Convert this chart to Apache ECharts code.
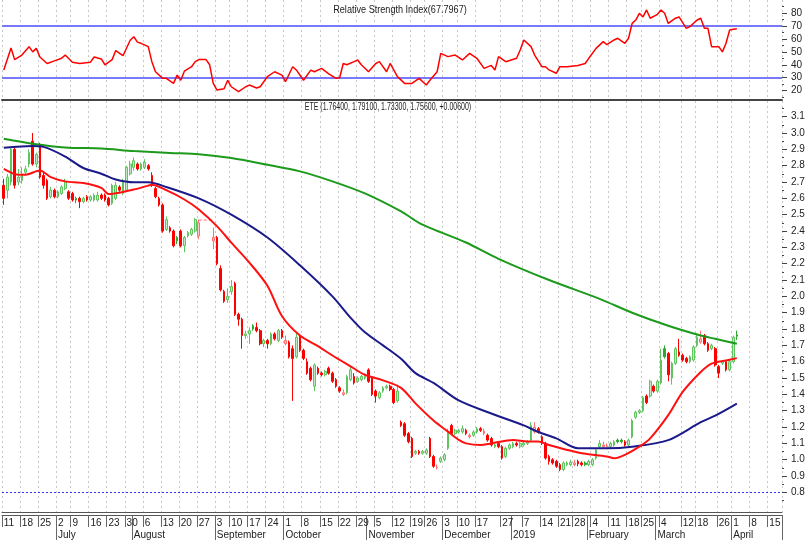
<!DOCTYPE html>
<html><head><meta charset="utf-8">
<script src="https://cdn.jsdelivr.net/npm/echarts@6/dist/echarts.min.js"></script>
<style>html,body{margin:0;padding:0;background:#fff}#c{width:809px;height:540px}</style>
</head><body><div id="c"></div>
<script>
// ---- daily OHLC (index 0 = 2018-06-11), null = no candle ----
const openP = [2.68,2.65,2.70,2.90,2.70,2.71,2.76,2.81,2.95,2.81,2.93,2.74,2.71,2.61,2.65,2.61,2.63,2.66,2.64,2.63,
2.60,2.60,2.58,2.61,2.59,2.59,2.59,2.62,2.62,2.60,2.57,2.60,2.67,2.63,2.65,2.75,2.79,2.81,2.78,2.79,
2.80,2.74,2.66,2.60,2.56,2.41,2.42,2.40,2.36,2.40,2.31,2.37,2.38,2.40,2.37,null,null,null,2.34,2.36,
2.17,2.03,1.98,2.03,2.08,1.89,1.86,1.76,1.77,1.82,1.81,1.79,1.71,1.73,1.71,1.77,1.73,1.79,1.71,1.72,
1.68,1.63,1.75,1.67,1.60,1.56,1.45,1.56,1.53,1.52,1.56,1.53,1.49,1.44,1.40,1.41,1.49,1.51,1.48,1.49,
1.50,1.55,1.50,1.42,1.38,1.42,1.44,1.45,1.43,1.36,1.23,1.22,1.16,1.13,1.04,1.05,1.04,1.04,1.13,1.02,
0.95,0.99,1.00,1.07,1.21,1.16,1.17,1.17,1.18,1.14,1.15,1.17,1.19,1.16,1.15,1.13,1.08,1.10,1.08,1.02,
1.07,1.08,1.10,1.08,1.09,1.10,1.12,1.17,1.19,1.14,1.10,1.02,1.00,0.99,0.97,0.94,0.97,0.97,0.97,0.99,
0.98,0.98,0.97,0.97,1.01,1.08,1.08,1.08,1.08,1.09,1.12,1.12,1.11,1.09,1.14,1.26,1.29,1.30,1.39,1.39,
1.45,1.42,1.47,1.68,1.65,1.50,1.59,1.66,1.64,1.62,1.60,1.61,1.70,1.72,1.76,1.71,1.68,1.68,1.57,1.59,
1.60,1.55,1.60,1.764];
const closeP = [2.60,2.73,2.90,2.68,2.73,2.75,2.78,2.88,2.81,2.87,2.73,2.68,2.60,2.65,2.61,2.64,2.67,2.70,2.60,2.59,
2.59,2.58,2.60,2.59,2.61,2.62,2.62,2.60,2.59,2.56,2.68,2.68,2.65,2.70,2.79,2.81,2.83,2.78,2.81,2.82,
2.78,2.68,2.61,2.56,2.40,2.47,2.40,2.31,2.34,2.31,2.36,2.39,2.41,2.47,2.45,null,null,null,2.36,2.20,
2.04,1.97,2.00,2.06,1.89,1.86,1.76,1.77,1.79,1.80,1.79,1.71,1.73,1.71,1.77,1.74,1.79,1.75,1.73,1.63,
1.62,1.75,1.67,1.62,1.53,1.49,1.58,1.53,1.52,1.54,1.53,1.48,1.45,1.42,1.41,1.51,1.55,1.47,1.50,1.51,
1.51,1.48,1.40,1.39,1.41,1.44,1.45,1.43,1.35,1.42,1.21,1.15,1.11,1.02,1.05,1.04,1.05,1.06,1.02,0.96,
0.955,1.01,1.03,1.17,1.16,1.18,1.18,1.19,1.16,1.15,1.17,1.19,1.18,1.175,1.12,1.09,1.09,1.08,1.01,1.07,
1.09,1.10,1.09,1.10,1.10,1.11,1.21,1.20,1.17,1.10,1.01,0.99,0.98,0.96,0.94,0.98,0.98,0.985,0.98,0.975,
0.97,0.97,0.99,1.00,1.06,1.10,1.09,1.085,1.10,1.11,1.11,1.11,1.09,1.12,1.24,1.29,1.30,1.38,1.35,1.48,
1.42,1.48,1.61,1.63,1.52,1.59,1.68,1.64,1.61,1.60,1.63,1.69,1.75,1.74,1.71,1.67,1.70,1.58,1.53,1.60,
1.55,1.60,1.75,1.756];
const lowP = [2.56,2.60,2.68,2.66,2.68,2.69,2.74,2.79,2.80,2.79,2.72,2.66,2.59,2.60,2.60,2.60,2.62,2.65,2.59,2.58,
2.57,2.54,2.57,2.58,2.58,2.58,2.58,2.59,2.58,2.55,2.56,2.59,2.64,2.62,2.64,2.74,2.77,2.77,2.77,2.78,
2.77,2.67,2.60,2.55,2.39,2.40,2.39,2.30,2.32,2.30,2.27,2.36,2.37,2.39,2.35,null,null,null,2.29,2.19,
2.03,1.96,1.96,2.01,1.88,1.82,1.68,1.74,1.71,1.79,1.78,1.70,1.69,1.68,1.70,1.73,1.72,1.74,1.70,1.62,
1.36,1.62,1.66,1.61,1.52,1.48,1.42,1.52,1.51,1.51,1.52,1.47,1.44,1.41,1.39,1.40,1.48,1.46,1.47,1.48,
1.49,1.47,1.39,1.35,1.37,1.41,1.43,1.42,1.34,1.35,1.20,1.14,1.10,1.01,1.03,1.03,1.03,1.03,1.01,0.95,
0.94,0.98,0.99,1.06,1.15,1.15,1.16,1.16,1.15,1.13,1.14,1.16,1.17,1.15,1.11,1.08,1.07,1.07,1.00,1.01,
1.06,1.07,1.08,1.07,1.08,1.09,1.11,1.16,1.16,1.09,1.00,0.97,0.97,0.95,0.93,0.93,0.96,0.96,0.96,0.96,
0.96,0.96,0.96,0.96,1.00,1.07,1.07,1.07,1.07,1.08,1.10,1.10,1.08,1.08,1.13,1.25,1.28,1.29,1.34,1.38,
1.41,1.41,1.46,1.62,1.48,1.46,1.58,1.63,1.60,1.59,1.59,1.60,1.69,1.71,1.70,1.66,1.67,1.57,1.50,1.58,
1.54,1.54,1.59,1.733];
const highP = [2.72,2.75,2.91,2.92,2.78,2.79,2.80,2.90,3.00,2.88,2.94,2.76,2.72,2.67,2.66,2.65,2.68,2.72,2.65,2.64,
2.61,2.61,2.61,2.62,2.62,2.63,2.64,2.63,2.63,2.61,2.69,2.70,2.68,2.72,2.80,2.83,2.85,2.82,2.82,2.84,
2.81,2.76,2.67,2.61,2.57,2.49,2.43,2.41,2.37,2.41,2.37,2.40,2.42,2.48,2.47,null,null,null,2.42,2.37,
2.19,2.04,2.05,2.10,2.09,1.90,1.87,1.79,1.81,1.83,1.84,1.80,1.74,1.74,1.78,1.78,1.80,1.80,1.76,1.73,
1.70,1.78,1.76,1.68,1.62,1.57,1.59,1.57,1.54,1.55,1.57,1.54,1.50,1.45,1.43,1.52,1.57,1.53,1.51,1.52,
1.52,1.56,1.51,1.43,1.42,1.45,1.46,1.46,1.44,1.46,1.24,1.23,1.17,1.14,1.06,1.06,1.06,1.07,1.14,1.03,
0.97,1.02,1.04,1.19,1.22,1.19,1.19,1.21,1.19,1.16,1.18,1.20,1.20,1.19,1.16,1.14,1.10,1.11,1.09,1.08,
1.10,1.11,1.11,1.11,1.11,1.12,1.23,1.23,1.20,1.15,1.11,1.03,1.01,1.00,0.98,0.99,0.99,1.00,1.00,1.00,
0.99,0.99,1.00,1.01,1.07,1.12,1.11,1.10,1.11,1.12,1.13,1.13,1.12,1.13,1.25,1.30,1.31,1.39,1.40,1.49,
1.46,1.49,1.68,1.70,1.66,1.60,1.69,1.74,1.65,1.63,1.64,1.70,1.77,1.79,1.77,1.72,1.71,1.69,1.58,1.61,
1.61,1.61,1.76,1.791];

// ---- moving averages: [day index, value] ----
const maShort = [[0,2.78],[4,2.745],[6,2.745],[10,2.771],[13,2.73],[17,2.704],[22,2.694],[27,2.664],[29,2.627],[32,2.635],
[36,2.654],[40,2.678],[41,2.684],[45,2.65],[50,2.593],[54,2.532],[59,2.43],[63,2.329],[68,2.207],[73,2.065],[77,1.88],
[82,1.76],[87,1.695],[91,1.638],[96,1.572],[100,1.52],[105,1.486],[110,1.44],[114,1.345],[119,1.24],[123,1.172],
[126,1.121],[128,1.10],[132,1.09],[135,1.10],[141,1.121],[145,1.111],[148,1.111],[151,1.09],[156,1.06],[160,1.04],
[167,1.02],[169,1.009],[172,1.03],[176,1.08],[179,1.131],[184,1.273],[188,1.415],[193,1.537],[196,1.588],[200,1.608],[203,1.622]];
const maMid = [[0,2.91],[8,2.92],[11,2.915],[17,2.856],[22,2.786],[27,2.751],[31,2.715],[36,2.698],[40,2.698],[45,2.67],
[54,2.60],[63,2.50],[73,2.36],[82,2.19],[91,2.00],[96,1.87],[100,1.78],[105,1.70],[110,1.618],[114,1.53],[119,1.47],
[126,1.363],[135,1.283],[144,1.21],[148,1.17],[153,1.131],[159,1.07],[167,1.07],[174,1.08],[184,1.12],[193,1.23],[197,1.27],[203,1.344]];
const maLong = [[0,2.965],[8,2.935],[17,2.912],[27,2.905],[36,2.89],[46,2.878],[54,2.87],[63,2.847],[73,2.806],[82,2.765],
[91,2.704],[100,2.63],[110,2.52],[115,2.45],[119,2.41],[128,2.33],[137,2.23],[151,2.10],[165,1.985],[174,1.90],
[184,1.82],[193,1.76],[197,1.74],[203,1.71]];
const gapLine = [[54,2.467],[58,2.467]];

// ---- RSI: [day index, value] ----
const rsi = [[0,36],[2,53],[3,44],[5,47.5],[7,54],[8,50],[9,52.7],[10,46],[12,41],[14,43],[16,45],[17,47.5],[19,42],
[21,41],[24,42],[25,46],[27,44.5],[28,40],[30,44],[31,51],[33,47],[35,59],[36,61.7],[37,57.5],[38,56.6],[40,54],
[41,42.4],[42,34.6],[44,29.5],[45,29.5],[47,25.6],[48,32],[49,28],[50,35],[52,38.5],[53,42.4],[54,44],[56,44],[57,40],
[58,25.6],[59,20.5],[61,21.5],[62,28],[63,23],[65,19.2],[67,23],[68,24.3],[70,22],[71,23],[73,30.8],[75,34.6],[77,32],
[78,26.9],[80,38.5],[81,36],[83,28],[85,35.9],[86,34.6],[88,37.2],[90,33],[92,29.5],[93,30],[94,41],[95,40],[97,42.4],
[98,43.7],[99,40],[101,34.6],[103,41],[104,42.4],[106,34.6],[107,41],[109,30.8],[111,25.6],[113,25.6],[115,29.5],
[117,24.3],[118,28],[120,34.6],[121,48.8],[123,46.3],[125,47.5],[127,43.7],[129,48.8],[131,45],[133,37.2],[135,39.5],
[136,35.9],[137,46.3],[139,42.4],[142,45],[143,51.4],[144,59.2],[146,54],[147,47.5],[149,38.5],[150,38.5],[151,36],
[153,33.4],[154,38.5],[156,38.5],[159,39.5],[161,41],[162,45],[164,52.7],[166,57.9],[167,55.5],[169,59.2],[170,60.5],
[172,56.6],[173,60.5],[174,72],[175,74.6],[176,79.8],[177,77],[178,82.4],[179,76],[181,79],[182,82.4],[183,79.8],
[184,72],[186,76],[187,77],[189,68.2],[190,69.5],[192,74.6],[193,76],[194,68.2],[195,68.2],[196,54],[198,54],[199,50],
[200,56.6],[201,66.9],[202,67.5],[203,67.8]];
const rsiLevels = [70, 30];
const priceRefLevel = [0.8];

// ---- texts, axis ticks / labels ----
const rsiTitle = 'Relative Strength Index(67.7967)';
const priceTitle = 'ETE (1.76400, 1.79100, 1.73300, 1.75600, +0.00600)';
const rsiTicks = [20,30,40,50,60,70,80];
const rsiMinorTicks = [15,25,35,45,55,65,75,85];
const priceTicks = [0.8,0.9,1.0,1.1,1.2,1.3,1.4,1.5,1.6,1.7,1.8,1.9,2.0,2.1,2.2,2.3,2.4,2.5,2.6,2.7,2.8,2.9,3.0,3.1];
const priceMinorTicks = [0.75,0.85,0.95,1.05,1.15,1.25,1.35,1.45,1.55,1.65,1.75,1.85,1.95,2.05,2.15,2.25,2.35,2.45,2.55,2.65,2.75,2.85,2.95,3.05,3.15];
const weekIdx = [0,5,10,15,19,24,29,34,39,44,49,54,59,63,68,73,78,83,88,93,98,103,108,113,117,122,126,131,138,144,149,154,158,163,168,173,177,182,188,192,198,202,207,212];
const weekLabels = ['11','18','25','2','9','16','23','30','6','13','20','27','3','10','17','24','1','8','15','22','29','5','12','19','26','3','10','17','27','7','14','21','28','4','11','18','25','4','12','18','26','1','8','15'];
const monthIdx = [15,36,59,78,101,122,141,162,181,202];
const monthLabels = ['July','August','September','October','November','December','2019','February','March','April'];
const holidays = ['2018-07-04','2018-09-03','2018-11-22','2018-12-05','2018-12-25','2019-01-01','2019-01-21','2019-02-18'];
const nCats = 216;

// ---- build ----
const cats = [];
{ const d = new Date(Date.UTC(2018,5,11));
  while (cats.length < nCats) { const wd = d.getUTCDay(); const s = d.toISOString().slice(0,10);
    if (wd !== 0 && wd !== 6 && holidays.indexOf(s) < 0) cats.push(s); d.setUTCDate(d.getUTCDate()+1); } }
const weekMap = {}; weekIdx.forEach((k,j)=>weekMap[k]=weekLabels[j]);
const monthMap = {}; monthIdx.forEach((k,j)=>monthMap[k]=monthLabels[j]);
const isWeek = (i)=> weekMap[i] !== undefined;
const isMonth = (i)=> monthMap[i] !== undefined;

const C_GL='#c2eac2', C_GB='#5fc45f', C_R='#ff0000', C_PF='#ffc6c6', C_PB='#ff7070', C_GS='#2fa82f';
const candleData = openP.map((o,i)=>{
  if (o == null) return '-';
  const c = closeP[i]; let pc = null;
  for (let j=i-1;j>=0;j--) if (closeP[j]!=null){pc=closeP[j];break;}
  const upDay = pc==null ? c>=o : c>=pc;
  const hollow = c>o;
  let f,b;
  if (upDay){ f = hollow?C_GL:C_GS; b = hollow?C_GB:C_GS; } else { f = hollow?C_PF:C_R; b = hollow?C_PB:C_R; }
  return {value:[o,c,lowP[i],highP[i]], itemStyle:{color:f,color0:f,borderColor:b,borderColor0:b}};
});

const FONT = "'Liberation Sans',Arial,sans-serif";
const gridSplit = {show:true, interval:(i)=>isWeek(i), lineStyle:{color:'#c8c8c8', type:[2,3], width:1}};
const lbl = {fontFamily:FONT, fontSize:10, color:'#222'};

const chart = echarts.init(document.getElementById('c'), null, {renderer:'canvas'});
chart.setOption({
  animation:false,
  backgroundColor:'#fff',
  graphic:[
    {type:'text', x:400, y:10.5, scaleX:0.91, z:10,
     style:{text:rsiTitle, fontFamily:FONT, fontSize:10, fill:'#222', align:'center', verticalAlign:'middle'}},
    {type:'text', x:388, y:107.5, scaleX:0.7, z:10,
     style:{text:priceTitle, fontFamily:FONT, fontSize:10, fill:'#222', align:'center', verticalAlign:'middle'}}
  ],
  grid:[
    {left:2, right:27, top:0, height:100},
    {left:2, right:27, top:101, height:413}
  ],
  xAxis:[
    {type:'category', gridIndex:0, data:cats, boundaryGap:true,
     axisLine:{show:true, lineStyle:{color:'#444', width:2}}, axisTick:{show:false}, axisLabel:{show:false}, splitLine:gridSplit},
    {type:'category', gridIndex:1, data:cats, boundaryGap:true,
     axisLine:{show:true, lineStyle:{color:'#555', width:1}}, axisTick:{show:false}, axisLabel:{show:false}, splitLine:gridSplit},
    {type:'category', gridIndex:1, data:cats, boundaryGap:true, position:'bottom', offset:3,
     axisLine:{show:true, lineStyle:{color:'#555', width:1}},
     axisTick:{show:true, interval:(i)=>isWeek(i), length:12, lineStyle:{color:'#666'}},
     axisLabel:{show:true, interval:(i)=>isWeek(i), formatter:(v,i)=>weekMap[i]||'', align:'left', margin:3, ...lbl},
     splitLine:{show:false}},
    {type:'category', gridIndex:1, data:cats, boundaryGap:true, position:'bottom', offset:3,
     axisLine:{show:false},
     axisTick:{show:true, interval:(i)=>isMonth(i), length:25, lineStyle:{color:'#666'}},
     axisLabel:{show:true, interval:(i)=>isMonth(i), formatter:(v,i)=>monthMap[i]||'', align:'left', margin:15, ...lbl},
     splitLine:{show:false}}
  ],
  yAxis:[
    {type:'value', gridIndex:0, position:'right', min:12.75, max:90.1, splitLine:{show:false}, axisLine:{show:false},
     axisTick:{show:true, customValues:rsiTicks, length:5, lineStyle:{color:'#444'}},
     axisLabel:{show:true, customValues:rsiTicks, margin:9, ...lbl}},
    {type:'value', gridIndex:0, position:'right', min:12.75, max:90.1, splitLine:{show:false}, axisLine:{show:false},
     axisTick:{show:true, customValues:rsiMinorTicks, length:2, lineStyle:{color:'#444'}}, axisLabel:{show:false}},
    {type:'value', gridIndex:1, position:'right', min:0.68, max:3.196, splitLine:{show:false}, axisLine:{show:false},
     axisTick:{show:true, customValues:priceTicks, length:5, lineStyle:{color:'#444'}},
     axisLabel:{show:true, customValues:priceTicks, margin:9, formatter:(v)=>v.toFixed(1), ...lbl}},
    {type:'value', gridIndex:1, position:'right', min:0.68, max:3.196, splitLine:{show:false}, axisLine:{show:false},
     axisTick:{show:true, customValues:priceMinorTicks, length:2, lineStyle:{color:'#444'}}, axisLabel:{show:false}}
  ],
  series:[
    {name:'RSI', type:'line', xAxisIndex:0, yAxisIndex:0, data:rsi, showSymbol:false, symbol:'none',
     lineStyle:{color:'#ff0000', width:1.5}, z:5,
     markLine:{silent:true, symbol:['none','none'], label:{show:false}, animation:false,
       lineStyle:{color:'#7878ff', width:2, type:'solid'}, data:rsiLevels.map(v=>({yAxis:v}))}},
    {name:'ETE', type:'candlestick', xAxisIndex:1, yAxisIndex:2, data:candleData, barWidth:2.2,
     itemStyle:{borderWidth:1}, z:3,
     markLine:{silent:true, symbol:['none','none'], label:{show:false}, animation:false,
       lineStyle:{color:'#3333ff', width:1, type:[2,2]}, data:priceRefLevel.map(v=>({yAxis:v}))}},
    {name:'gap', type:'line', xAxisIndex:1, yAxisIndex:2, data:gapLine, showSymbol:false, symbol:'none',
     lineStyle:{color:'#ff6a6a', width:1, type:[3,2]}, z:3},
    {name:'MA long', type:'line', xAxisIndex:1, yAxisIndex:2, data:maLong, showSymbol:false, symbol:'none', smooth:0.3,
     lineStyle:{color:'#1c9a1c', width:2}, z:4},
    {name:'MA mid', type:'line', xAxisIndex:1, yAxisIndex:2, data:maMid, showSymbol:false, symbol:'none', smooth:0.3,
     lineStyle:{color:'#1a1a8a', width:2}, z:4},
    {name:'MA short', type:'line', xAxisIndex:1, yAxisIndex:2, data:maShort, showSymbol:false, symbol:'none', smooth:0.3,
     lineStyle:{color:'#ff1010', width:2}, z:4}
  ]
});
</script></body></html>
